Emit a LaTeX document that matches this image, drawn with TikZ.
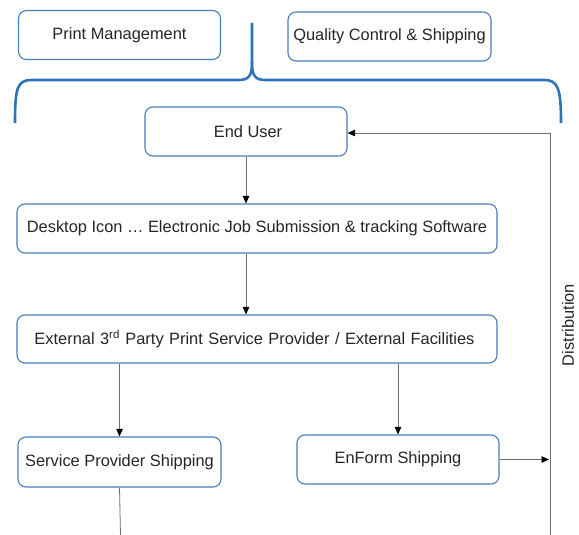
\documentclass[tikz,border=0pt]{standalone}
\usepackage{fontspec}
\setmainfont{Liberation Sans}
\usetikzlibrary{arrows.meta}
\definecolor{boxblue}{RGB}{74,126,187}
\definecolor{braceblue}{RGB}{46,117,182}
\definecolor{linegray}{RGB}{110,110,110}
\tikzset{
  box/.style={draw=boxblue, line width=1.1pt, rounded corners=8pt, fill=white,
    minimum height=49pt, inner sep=1pt, font=\fontsize{16.4}{19}\selectfont, text=black!85},
  conn/.style={draw=linegray, line width=0.8pt},
  arr/.style={conn, -{Triangle[length=7.5pt,width=6.5pt]}, arrows={[color=black]}},
  bracepath/.style={draw=braceblue, line width=2.6pt, line join=round}
}
\begin{document}
\begin{tikzpicture}[x=1pt,y=-1pt]
\useasboundingbox (0,0) rectangle (579,535);
% brace
\draw[bracepath] (15,123) .. controls (15,88) and (17,80) .. (32,80) -- (238,80)
  .. controls (249,80) and (252,76) .. (252,62) -- (252,23);
\draw[bracepath] (252,62) .. controls (252,76) and (255,80) .. (266,80) -- (544,80)
  .. controls (558,80) and (561,88) .. (561,123);
% nodes
\node[box, minimum width=202pt] (pm) at (119.5,35) {Print Management};
\node[box, minimum width=203pt] (qc) at (389.5,36.5) {Quality Control \& Shipping};
\node[box, minimum width=202pt] (eu) at (246,131.5) {\hspace{4pt}End User};
\node[box, minimum width=480pt] (dt) at (257,228.5) {Desktop Icon … Electronic Job Submission \& tracking Software};
\node[box, minimum width=480pt, minimum height=48pt, text width=477pt, align=left] (ext) at (257,339) {\hspace*{16pt}External 3\textsuperscript{rd} Party Print Service Provider / External Facilities};
\node[box, minimum width=203pt, minimum height=50pt] (sps) at (119.5,462) {Service Provider Shipping};
\node[box, minimum width=202pt] (enf) at (398,459.5) {EnForm Shipping};
\node[rotate=90, font=\fontsize{16.4}{19}\selectfont, text=black!85] (dist) at (568,325) {Distribution};
% coordinates
\coordinate (dbot) at (550.5,535);
\coordinate (dtop) at (550.5,133);
\coordinate (enfend) at (549,459.5);
\coordinate (spsend) at (120.5,535);
% connectors
\draw[arr] (eu.south) -- (eu.south |- dt.north);
\draw[arr] (dt.south -| eu.south) -- (eu.south |- ext.north);
\draw[arr] (ext.south -| sps.north) -- (sps.north);
\draw[arr] (ext.south -| enf.north) -- (enf.north);
\draw[arr] (enf.east) -- (enfend);
\draw[conn] (sps.south) -- (spsend);
\draw[arr] (dbot) -- (dtop) -- (dtop -| eu.east);
\end{tikzpicture}
\end{document}
